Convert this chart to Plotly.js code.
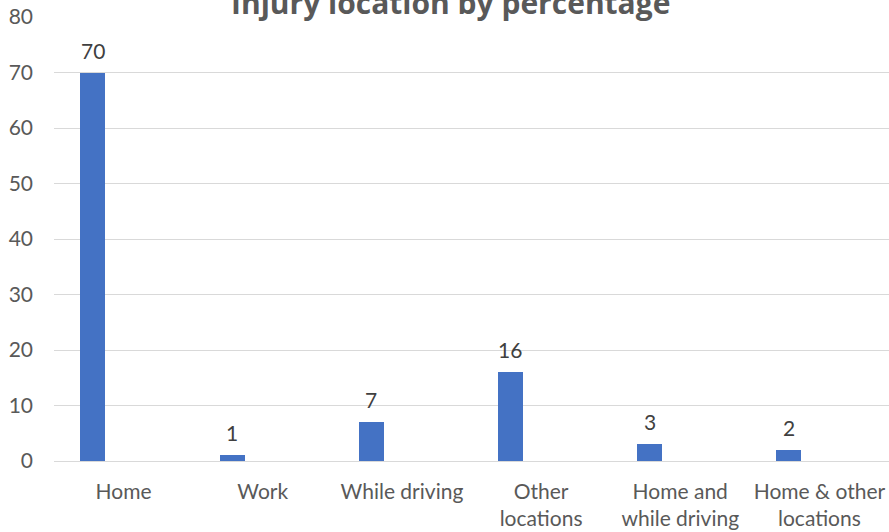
<!DOCTYPE html>
<html><head><meta charset="utf-8">
<script src="https://cdn.plot.ly/plotly-3.0.1.min.js"></script>
<style>html,body{margin:0;padding:0;background:#fff}#chart{width:889px;height:532px}</style>
</head><body><div id="chart"></div>
<script>
const categories = ["Home", "Work", "While driving", "Other<br>locations", "Home and<br>while driving", "Home & other<br>locations"];
const percentages = [70, 1, 7, 16, 3, 2];
const yTicks = [0, 10, 20, 30, 40, 50, 60, 70, 80];

const barOffset = -0.31, barWidth = 0.18;

const trace = {
  type: 'bar',
  x: categories,
  y: percentages,
  marker: {color: '#4472C4'},
  width: barWidth,
  offset: barOffset,
  hoverinfo: 'skip'
};

const labels = percentages.map((v, i) => ({
  x: i + barOffset + barWidth / 2, y: v, xref: 'x', yref: 'y',
  text: String(v), showarrow: false, yanchor: 'bottom', yshift: 8,
  font: {family: 'Lato, "Open Sans", sans-serif', size: 21, color: '#404040'}
}));

const layout = {
  width: 889, height: 532,
  margin: {l: 54, r: 0, t: 17, b: 71},
  paper_bgcolor: '#fff', plot_bgcolor: '#fff',
  showlegend: false,
  font: {family: 'Lato, "Open Sans", sans-serif', color: '#595959', size: 21},
  title: {
    text: '<b>Injury location by percentage</b>',
    font: {family: '"Open Sans", Lato, sans-serif', size: 30, color: '#595959'},
    x: 0.507, xanchor: 'center', xref: 'container',
    y: 1 - 14/532, yanchor: 'bottom', yref: 'container'
  },
  annotations: labels,
  xaxis: {
    type: 'category',
    range: [-0.5, 5.5],
    showgrid: false, zeroline: false,
    showline: false, ticks: '',
    ticklabelstandoff: 16,
    tickfont: {size: 21, color: '#595959'}
  },
  yaxis: {
    range: [0, 80],
    tickvals: yTicks,
    showgrid: true, gridcolor: '#D9D9D9', gridwidth: 1,
    zeroline: true, zerolinecolor: '#D9D9D9', zerolinewidth: 1,
    showline: false, ticks: '',
    ticklabelstandoff: 20,
    tickfont: {size: 21, color: '#595959'}
  },
  bargap: 0
};

Plotly.newPlot('chart', [trace], layout, {displayModeBar: false, staticPlot: true});
</script></body></html>
